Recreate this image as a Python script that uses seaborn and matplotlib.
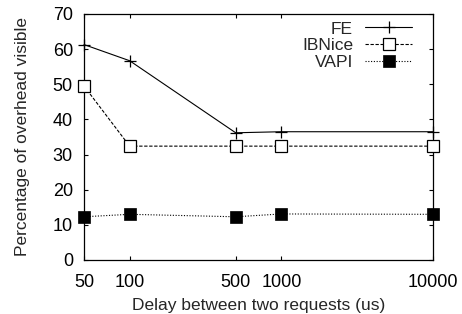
import matplotlib
matplotlib.use("Agg")
import matplotlib.pyplot as plt
import seaborn as sns
import pandas as pd
from matplotlib.ticker import FixedLocator, FixedFormatter, NullLocator

delays = [50, 100, 500, 1000, 10000]
fe = [61.3, 56.7, 36.2, 36.5, 36.5]
ibnice = [49.5, 32.4, 32.4, 32.4, 32.4]
vapi = [12.3, 13.0, 12.3, 13.1, 13.0]
yticks = [0, 10, 20, 30, 40, 50, 60, 70]

sns.set_style("ticks")
plt.rcParams['font.family'] = ['Liberation Sans', 'DejaVu Sans']

fig = plt.figure(figsize=(4.62, 3.14), dpi=100)
ax = fig.add_axes([84/462, 1 - 260/314, (433-84)/462, (260-14)/314])

df = pd.DataFrame({"delay": delays, "FE": fe, "IBNice": ibnice, "VAPI": vapi})

sns.lineplot(data=df, x="delay", y="FE", ax=ax, color="black", lw=0.8,
             linestyle="-", marker="+", markersize=8, markeredgewidth=0.9,
             markeredgecolor="black", label="FE", clip_on=False, zorder=5)
sns.lineplot(data=df, x="delay", y="IBNice", ax=ax, color="black", lw=0.8,
             linestyle=(0, (3, 1.5)), marker="s", markersize=8,
             markerfacecolor="white", markeredgecolor="black", markeredgewidth=0.9,
             label="IBNice", clip_on=False, zorder=5)
sns.lineplot(data=df, x="delay", y="VAPI", ax=ax, color="black", lw=0.8,
             linestyle=(0, (1, 1.5)), marker="s", markersize=8.5,
             markerfacecolor="black", markeredgecolor="black", markeredgewidth=0.5,
             label="VAPI", clip_on=False, zorder=5)

ax.set_xscale("log")
ax.set_xlim(50, 10000)
ax.set_ylim(0, 70)
ax.xaxis.set_major_locator(FixedLocator(delays))
ax.xaxis.set_major_formatter(FixedFormatter([str(d) for d in delays]))
ax.xaxis.set_minor_locator(NullLocator())
ax.set_yticks(yticks)
ax.set_yticklabels([str(v) for v in yticks])

ax.tick_params(axis="both", which="major", direction="in", length=3, width=0.8,
               top=True, right=True, labelsize=13, colors="black")
ax.tick_params(axis="x", pad=10)
ax.tick_params(axis="y", pad=8)
for s in ax.spines.values():
    s.set_color("black")
    s.set_linewidth(0.9)

ax.set_xlabel("Delay between two requests (us)", fontsize=12.5, labelpad=5)
ax.set_ylabel("Percentage of overhead visible", fontsize=12.5, labelpad=16)

leg = ax.legend(loc="upper right", bbox_to_anchor=(0.94, 0.97), frameon=False,
                markerfirst=False, fontsize=12.5,
                handlelength=2.7, handletextpad=0.7, labelspacing=0.1,
                borderaxespad=0, borderpad=0)

fig.savefig("out.png", dpi=100)
